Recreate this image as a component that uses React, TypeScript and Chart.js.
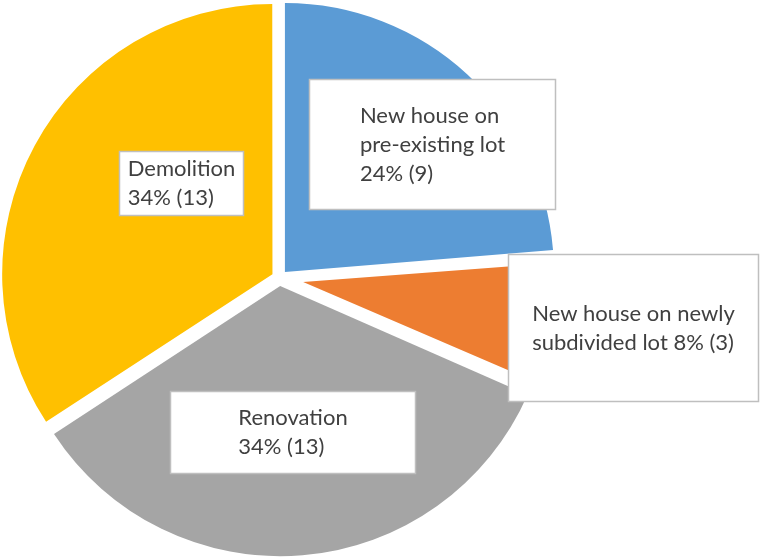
import React, { useEffect, useRef } from "react";
import { Chart, registerables } from "chart.js";

Chart.register(...registerables);

// ---- data ----
const categories = [
  "New house on pre-existing lot",
  "New house on newly subdivided lot",
  "Renovation",
  "Demolition",
];
const counts = [9, 3, 13, 13];
const sliceColors = ["#5B9BD5", "#ED7D31", "#A5A5A5", "#FFC000"];
// words at which each label wraps onto a new line (word indices in "name pct (n)")
const labelBreaks = [
  [3, 5],
  [4],
  [1],
  [1],
];

// ---- layout of the label boxes (page pixels: left, top, right, bottom) ----
const labelBoxes = [
  [309, 79, 556, 210],
  [508, 254, 759, 402],
  [170, 391, 416, 474],
  [119, 151, 244, 216],
];
const sliceOffsets = [32, 96, 32, 32];
const FONT = "22px Lato";
const LINE_H = 29;

function buildLines(i: number): string[] {
  const total = counts.reduce((a, b) => a + b, 0);
  const pct = Math.round((counts[i] / total) * 100);
  const words = `${categories[i]} ${pct}% (${counts[i]})`.split(" ");
  const lines: string[] = [];
  let start = 0;
  for (const b of [...labelBreaks[i], words.length]) {
    lines.push(words.slice(start, b).join(" "));
    start = b;
  }
  return lines;
}

const labelPlugin = {
  id: "boxLabels",
  afterDatasetsDraw(chart: any) {
    const ctx: CanvasRenderingContext2D = chart.ctx;
    ctx.save();
    ctx.font = FONT;
    ctx.textBaseline = "middle";
    ctx.textAlign = "left";
    labelBoxes.forEach((b, i) => {
      const [l, t, r, btm] = b;
      ctx.fillStyle = "#FFFFFF";
      ctx.fillRect(l, t, r - l, btm - t);
      ctx.strokeStyle = "#BFBFBF";
      ctx.lineWidth = 1.5;
      ctx.strokeRect(l + 0.5, t + 0.5, r - l - 1, btm - t - 1);
      const lines = buildLines(i);
      const maxW = Math.max(...lines.map((s) => ctx.measureText(s).width));
      const cx = (l + r) / 2;
      const cy = (t + btm) / 2;
      ctx.fillStyle = "#404040";
      lines.forEach((s, k) => {
        ctx.fillText(s, cx - maxW / 2, cy + (k - (lines.length - 1) / 2) * LINE_H);
      });
    });
    ctx.restore();
  },
};

export default function App() {
  const ref = useRef<HTMLCanvasElement | null>(null);
  useEffect(() => {
    if (!ref.current) return;
    const chart = new Chart(ref.current, {
      type: "pie",
      data: {
        labels: categories,
        datasets: [
          {
            data: counts,
            backgroundColor: sliceColors,
            borderWidth: 0,
            offset: sliceOffsets,
          },
        ],
      },
      options: {
        animation: false,
        responsive: false,
        devicePixelRatio: 1,
        events: [],
        radius: 269,
        layout: { padding: { left: 0, right: 201, top: 0, bottom: 1 } },
        plugins: { legend: { display: false }, tooltip: { enabled: false } },
      } as any,
      plugins: [labelPlugin],
    });
    return () => chart.destroy();
  }, []);
  return (
    <div style={{ position: "absolute", left: 0, top: 0, width: 760, height: 557, background: "#fff" }}>
      <canvas ref={ref} width={760} height={557} style={{ width: 760, height: 557 }} />
    </div>
  );
}
